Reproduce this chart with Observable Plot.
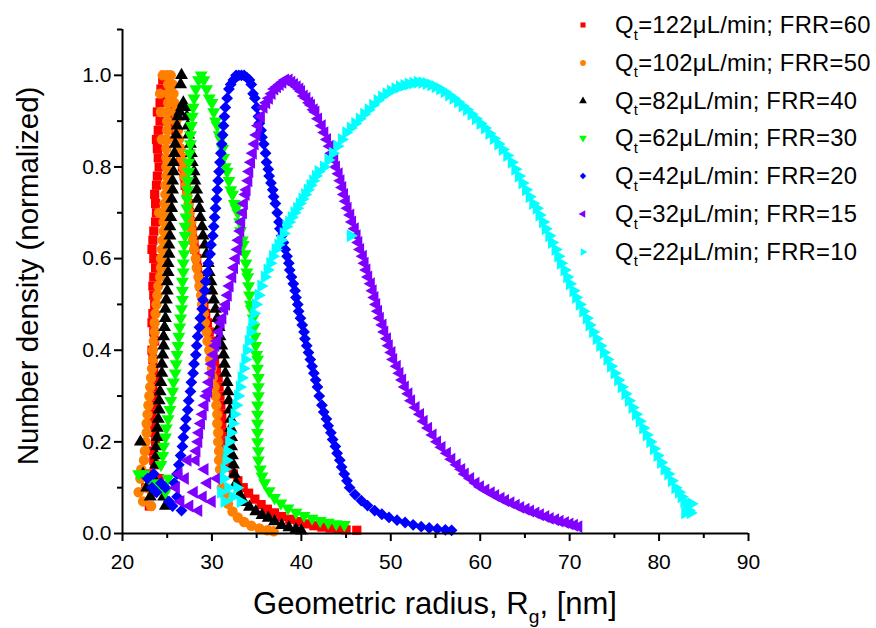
<!DOCTYPE html>
<html><head><meta charset="utf-8">
<script src="https://cdn.jsdelivr.net/npm/d3@7"></script>
<script src="https://cdn.jsdelivr.net/npm/@observablehq/plot@0.6"></script>
<style>
body{margin:0;background:#fff;font-family:Arial,"Liberation Sans",sans-serif;}
#wrap{position:relative;width:876px;height:628px;overflow:hidden;}
.abs{position:absolute;white-space:nowrap;color:#000;line-height:1;}
.sub{font-size:0.62em;position:relative;top:0.45em;}
</style></head><body><div id="wrap"></div>
<script>
// ---- axis ticks ----
const xTicks = [20,30,40,50,60,70,80,90];
const xMinorTicks = [25,35,45,55,65,75,85];
const yTicks = [0,0.2,0.4,0.6,0.8,1.0];
const yMinorTicks = [0.1,0.3,0.5,0.7,0.9,1.1];

// ---- legend / series metadata ----
const flowRates = [122,102,82,62,42,32,22];
const frrValues = [60,50,40,30,20,15,10];
const separators = [";",";",";",";",":",";",";"];
const colors = ["#ff0000","#ff8000","#000000","#00ff00","#0000ff","#8000ff","#00ffff"];
const symbols = ["square","circle","triangle","triangle","diamond2","triangle","triangle"];
const rotations = [0,0,0,180,0,-90,90];

// ---- data: [radius nm, normalized number density] ----
const red122 = [
[22.6,0.10],[23.0,0.13],[23.3,0.09],[23.6,0.15],[24.1,0.12],[23.0,0.06],
[23.5,0.16],[23.4,0.18],[23.7,0.20],[23.6,0.22],[23.4,0.24],[23.3,0.26],[23.6,0.28],[23.5,0.30],[23.4,0.32],[23.7,0.34],[23.5,0.36],[23.4,0.38],[23.3,0.40],[23.6,0.42],[23.5,0.44],[23.3,0.46],[23.4,0.48],[23.6,0.50],[23.5,0.52],[23.4,0.54],[23.5,0.56],[23.7,0.58],[23.5,0.60],[23.3,0.62],[23.4,0.64],[23.5,0.66],[23.7,0.68],[23.8,0.70],[23.7,0.72],[23.6,0.74],[23.8,0.76],[23.9,0.78],[24.1,0.80],[24.0,0.82],[23.9,0.84],[23.8,0.86],[24.0,0.88],[24.2,0.90],[23.9,0.92],[24.2,0.94],[24.4,0.95],[24.3,0.97],[24.5,0.99],[24.7,1.0],[25.0,0.99],
[25.3,0.96],[25.4,0.94],[25.6,0.92],[25.8,0.90],[25.9,0.88],[26.1,0.86],[26.3,0.84],[26.5,0.82],[26.7,0.80],[26.9,0.78],[27.0,0.76],[27.2,0.74],[27.4,0.72],[27.5,0.70],[27.7,0.68],[27.8,0.66],[28.0,0.64],[28.1,0.62],[28.3,0.60],[28.4,0.58],[28.6,0.56],[28.7,0.54],[28.9,0.52],[29.1,0.50],[29.3,0.48],[29.5,0.46],[29.7,0.44],[29.9,0.42],[30.1,0.40],[30.3,0.38],[30.5,0.36],[30.7,0.34],[30.8,0.32],[30.9,0.30],[31.0,0.28],[31.1,0.26],[31.1,0.24],[31.2,0.22],[31.2,0.20],[31.3,0.18],[31.5,0.16],
[31.9,0.145],[32.4,0.13],[32.9,0.115],[33.5,0.10],[34.1,0.088],[34.8,0.075],[35.5,0.063],[36.2,0.053],[37.0,0.045],[37.8,0.037],[38.7,0.031],[39.6,0.026],[40.5,0.021],[41.4,0.017],[42.3,0.014],[43.2,0.012],[44.1,0.010],[45.0,0.008],[46.2,0.007]
];
const orange102 = [
[21.8,0.09],[22.0,0.12],[22.3,0.07],[22.7,0.10],[23.2,0.06],[23.4,0.09],[22.1,0.14],
[22.4,0.16],[22.5,0.18],[22.6,0.20],[22.7,0.22],[22.7,0.24],[22.8,0.26],[22.9,0.28],[23.0,0.30],[23.1,0.32],[23.2,0.34],[23.3,0.36],[23.4,0.38],[23.4,0.40],[23.5,0.42],[23.6,0.44],[23.6,0.46],[23.7,0.48],[23.8,0.50],[23.9,0.52],[24.0,0.54],[24.2,0.56],[24.3,0.58],[24.3,0.60],[24.4,0.62],[24.5,0.64],[24.6,0.66],[24.6,0.68],[24.7,0.70],[24.7,0.72],[24.8,0.74],[24.8,0.76],[24.9,0.78],[24.9,0.80],[24.9,0.82],[24.9,0.84],[25.0,0.86],[25.0,0.88],[25.0,0.90],[25.0,0.92],[25.1,0.94],[25.1,0.96],[25.1,0.98],[25.0,1.0],[25.4,1.0],[25.6,0.98],
[24.4,0.86],[24.3,0.92],[24.2,0.96],[24.5,1.0],[24.1,0.70],
[25.7,0.96],[25.8,0.94],[25.9,0.92],[26.0,0.90],[26.2,0.88],[26.3,0.86],[26.5,0.84],[26.6,0.82],[26.8,0.80],[26.9,0.78],[27.1,0.76],[27.2,0.74],[27.4,0.72],[27.5,0.70],[27.7,0.68],[27.8,0.66],[27.9,0.64],[28.0,0.62],[28.2,0.60],[28.3,0.58],[28.5,0.56],[28.6,0.54],[28.8,0.52],[28.9,0.50],[29.1,0.48],[29.2,0.46],[29.4,0.44],[29.5,0.42],[29.7,0.40],[29.8,0.38],[30.0,0.36],[30.1,0.34],[30.3,0.32],[30.4,0.30],[30.5,0.28],[30.6,0.26],[30.6,0.24],[30.7,0.22],[30.7,0.20],[30.8,0.18],[30.8,0.16],[30.9,0.14],[31.0,0.12],[31.1,0.10],
[31.4,0.085],[31.8,0.065],[32.3,0.048],[32.9,0.035],[33.6,0.025],[34.4,0.017],[35.3,0.011],[36.2,0.007],[36.9,0.005]
];
const black82 = [
[22.0,0.20],[22.3,0.13],[22.7,0.10],[23.1,0.08],[24.6,0.08],[24.8,0.06],[23.5,0.12],
[23.7,0.15],[23.8,0.17],[23.8,0.19],[23.9,0.21],[23.9,0.23],[24.0,0.25],[24.1,0.27],[24.1,0.29],[24.2,0.31],[24.3,0.33],[24.4,0.35],[24.4,0.37],[24.5,0.39],[24.6,0.41],[24.6,0.43],[24.7,0.45],[24.8,0.47],[24.8,0.49],[24.9,0.51],[25.0,0.53],[25.0,0.55],[25.1,0.57],[25.1,0.59],[25.2,0.61],[25.2,0.63],[25.3,0.65],[25.3,0.67],[25.4,0.69],[25.5,0.71],[25.5,0.73],[25.6,0.75],[25.6,0.77],[25.7,0.79],[25.7,0.81],[25.8,0.83],[25.9,0.85],[26.0,0.87],[26.1,0.89],[26.2,0.91],[26.4,0.92],[26.6,0.93],[26.8,0.94],[27.0,0.93],[27.2,0.91],[26.5,0.98],[26.6,1.0],
[27.3,0.89],[27.4,0.87],[27.6,0.85],[27.7,0.83],[27.8,0.81],[28.0,0.79],[28.1,0.77],[28.3,0.75],[28.4,0.73],[28.6,0.71],[28.7,0.69],[28.9,0.67],[29.0,0.65],[29.2,0.63],[29.4,0.61],[29.6,0.59],[29.7,0.57],[29.9,0.55],[30.0,0.53],[30.2,0.51],[30.4,0.49],[30.6,0.47],[30.8,0.45],[30.9,0.43],[31.1,0.41],[31.3,0.39],[31.4,0.37],[31.5,0.35],[31.7,0.33],[31.8,0.31],[31.9,0.29],[32.0,0.27],[32.1,0.25],[32.1,0.23],[32.2,0.21],[32.2,0.19],[32.3,0.17],[32.4,0.15],[32.5,0.13],[32.7,0.11],
[33.1,0.085],[33.6,0.068],[34.2,0.058],[34.9,0.048],[35.6,0.040],[36.3,0.034],[37.0,0.026],[37.8,0.018],[38.6,0.013],[39.4,0.009],[40.0,0.006]
];
const green62 = [
[21.8,0.13],[22.4,0.13],[23.0,0.12],[23.6,0.11],[24.2,0.10],[24.8,0.09],[25.1,0.12],
[24.3,0.15],[24.5,0.17],[24.6,0.19],[24.8,0.21],[24.9,0.23],[25.1,0.25],[25.3,0.27],[25.4,0.29],[25.6,0.31],[25.7,0.33],[25.9,0.35],[26.0,0.37],[26.1,0.39],[26.2,0.41],[26.3,0.43],[26.4,0.45],[26.5,0.47],[26.6,0.49],[26.7,0.51],[26.7,0.53],[26.7,0.55],[26.8,0.57],[26.8,0.59],[26.9,0.61],[26.9,0.63],[27.0,0.65],[27.0,0.67],[27.1,0.69],[27.2,0.71],[27.2,0.73],[27.3,0.75],[27.3,0.77],[27.4,0.79],[27.4,0.81],[27.5,0.83],[27.6,0.85],[27.6,0.87],[27.7,0.89],[27.8,0.91],[27.9,0.93],[28.0,0.95],[28.2,0.97],[28.5,0.99],[28.8,1.0],[29.1,0.99],[29.4,0.97],[29.7,0.95],[30.0,0.94],
[30.2,0.92],[30.4,0.90],[30.6,0.89],[30.8,0.87],[31.0,0.86],[31.2,0.84],[31.3,0.82],[31.5,0.80],[31.7,0.79],[31.9,0.77],[32.1,0.75],[32.3,0.74],[32.5,0.72],[32.7,0.71],[32.9,0.70],[33.1,0.68],[33.2,0.66],[33.4,0.64],[33.5,0.63],[33.7,0.61],[33.8,0.59],[33.9,0.57],[34.0,0.56],[34.1,0.54],[34.2,0.52],[34.3,0.50],[34.4,0.49],[34.6,0.47],[34.7,0.45],[34.8,0.43],[34.9,0.41],[35.0,0.39],[35.1,0.38],[35.1,0.36],[35.2,0.34],[35.2,0.32],[35.2,0.30],[35.1,0.28],[35.1,0.26],[35.1,0.24],[35.1,0.22],[35.1,0.20],[35.2,0.18],[35.2,0.16],[35.4,0.14],[35.6,0.125],[35.9,0.11],
[36.4,0.093],[37.0,0.078],[37.7,0.066],[38.5,0.055],[39.4,0.046],[40.3,0.039],[41.2,0.033],[42.1,0.028],[43.0,0.024],[43.9,0.021],[44.8,0.019]
];
const blue42 = [
[22.8,0.12],[23.3,0.10],[23.8,0.09],[24.3,0.11],[24.8,0.10],[25.2,0.07],[25.6,0.06],[26.1,0.08],[26.6,0.05],[23.5,0.13],
[25.8,0.11],[26.1,0.13],[26.3,0.15],[26.5,0.17],[26.7,0.19],[26.8,0.21],[27.0,0.23],[27.1,0.25],[27.3,0.27],[27.4,0.29],[27.6,0.31],[27.7,0.33],[27.9,0.35],[28.0,0.37],[28.2,0.39],[28.3,0.41],[28.4,0.43],[28.6,0.45],[28.7,0.47],[28.9,0.49],[29.0,0.51],[29.2,0.53],[29.3,0.55],[29.5,0.57],[29.6,0.59],[29.8,0.61],[29.9,0.63],[30.1,0.65],[30.2,0.67],[30.3,0.69],[30.4,0.71],[30.5,0.73],[30.6,0.75],[30.7,0.77],[30.8,0.79],[30.9,0.81],[31.0,0.83],[31.1,0.85],[31.2,0.87],[31.3,0.89],[31.4,0.91],[31.5,0.93],[31.7,0.95],[31.9,0.97],[32.1,0.98],[32.4,0.99],[32.7,1.0],[33.0,1.0],[33.3,1.0],[33.6,1.0],[33.9,0.995],[34.2,0.99],
[34.4,0.98],[34.6,0.96],[34.8,0.95],[35.0,0.93],[35.2,0.91],[35.3,0.895],[35.5,0.88],[35.6,0.865],[35.8,0.85],[36.0,0.83],[36.1,0.81],[36.3,0.795],[36.4,0.78],[36.6,0.765],[36.8,0.75],[36.9,0.735],[37.1,0.72],[37.3,0.70],[37.5,0.68],[37.6,0.665],[37.8,0.65],[38.0,0.635],[38.2,0.62],[38.4,0.605],[38.6,0.59],[38.7,0.575],[38.9,0.56],[39.1,0.545],[39.3,0.53],[39.4,0.515],[39.6,0.50],[39.7,0.485],[39.9,0.47],[40.1,0.455],[40.3,0.44],[40.4,0.425],[40.6,0.41],[40.8,0.395],[41.0,0.38],[41.2,0.365],[41.4,0.35],[41.6,0.335],[41.8,0.32],[42.0,0.30],[42.3,0.28],[42.5,0.265],[42.8,0.25],[43.0,0.235],[43.3,0.22],[43.5,0.205],[43.8,0.19],[44.0,0.175],[44.3,0.16],[44.5,0.145],[44.8,0.13],[45.1,0.115],[45.4,0.10],
[46.0,0.085],[46.7,0.072],[47.4,0.061],[48.2,0.050],[49.0,0.042],[49.8,0.035],[50.7,0.029],[51.6,0.024],[52.5,0.019],[53.4,0.015],[54.3,0.012],[55.2,0.010],[56.1,0.008],[56.8,0.007]
];
const purple32 = [
[26.0,0.10],[26.5,0.07],[27.0,0.12],[27.5,0.06],[28.0,0.09],[28.5,0.05],[29.0,0.08],[29.5,0.11],[30.0,0.07],[27.3,0.16],[29.2,0.14],[30.6,0.12],[26.3,0.13],
[28.2,0.16],[28.3,0.18],[28.5,0.20],[28.6,0.22],[28.8,0.24],[29.0,0.26],[29.2,0.28],[29.4,0.30],[29.6,0.31],[29.7,0.33],[29.9,0.35],[30.0,0.37],[30.2,0.39],[30.4,0.41],[30.6,0.42],[30.8,0.44],[31.0,0.46],[31.2,0.47],[31.4,0.49],[31.6,0.50],[31.8,0.52],[32.0,0.54],[32.3,0.56],[32.5,0.58],[32.7,0.60],[32.9,0.62],[33.0,0.64],[33.2,0.66],[33.3,0.68],[33.5,0.70],[33.6,0.72],[33.8,0.74],[33.9,0.75],[34.1,0.77],[34.2,0.79],[34.4,0.81],[34.6,0.83],[34.8,0.85],[35.0,0.87],[35.2,0.89],[35.5,0.91],[35.8,0.93],[36.1,0.94],[36.4,0.95],[36.7,0.96],[37.0,0.97],[37.3,0.975],[37.6,0.98],[37.9,0.985],[38.2,0.99],[38.6,0.99],[38.9,0.985],[39.2,0.98],[39.5,0.975],
[39.8,0.97],[40.0,0.965],[40.3,0.955],[40.6,0.95],[40.9,0.94],[41.1,0.935],[41.4,0.925],[41.6,0.92],[41.9,0.905],[42.3,0.89],[42.6,0.875],[42.9,0.86],[43.2,0.845],[43.4,0.83],[43.7,0.815],[43.9,0.80],[44.2,0.785],[44.4,0.77],[44.6,0.755],[44.8,0.74],[45.0,0.725],[45.2,0.71],[45.5,0.695],[45.7,0.68],[46.0,0.665],[46.2,0.65],[46.4,0.635],[46.6,0.62],[46.9,0.605],[47.1,0.59],[47.3,0.575],[47.5,0.56],[47.8,0.545],[48.0,0.53],[48.2,0.515],[48.4,0.50],[48.6,0.485],[48.8,0.47],[49.1,0.455],[49.3,0.44],[49.6,0.425],[49.8,0.41],[50.1,0.395],[50.3,0.38],[50.7,0.365],[51.0,0.35],[51.3,0.335],[51.6,0.32],[52.0,0.305],[52.3,0.29],[52.8,0.275],[53.3,0.26],[53.7,0.245],[54.2,0.23],[54.7,0.215],[55.2,0.20],[55.7,0.188],[56.3,0.175],[56.8,0.162],[57.4,0.15],[57.9,0.14],[58.3,0.13],[58.9,0.12],[59.5,0.11],[60.0,0.102],[60.6,0.095],[61.2,0.089],[61.7,0.083],[62.3,0.077],[62.8,0.072],[63.4,0.067],[64.0,0.062],[64.5,0.057],[65.1,0.053],[65.6,0.049],[66.2,0.045],[66.7,0.041],[67.3,0.037],[67.8,0.033],[68.4,0.030],[68.9,0.027],[69.5,0.024],[70.0,0.021],[70.5,0.018],[71.0,0.015]
];
const cyan22 = [
[31.0,0.09],[31.4,0.07],[31.8,0.10],[32.3,0.08],[32.8,0.10],[33.2,0.07],[45.5,0.65],
[31.3,0.12],[31.4,0.14],[31.6,0.16],[31.7,0.18],[31.9,0.20],[32.1,0.22],[32.3,0.24],[32.5,0.26],[32.7,0.28],[32.9,0.30],[33.1,0.32],[33.3,0.34],[33.5,0.36],[33.7,0.38],[33.9,0.40],[34.1,0.42],[34.3,0.44],[34.5,0.46],[34.7,0.48],[34.9,0.50],[35.2,0.52],[35.5,0.54],[35.9,0.56],[36.2,0.575],[36.5,0.59],[36.8,0.605],[37.1,0.62],[37.4,0.63],[37.7,0.64],[38.0,0.655],[38.3,0.67],[38.6,0.68],[38.9,0.69],[39.2,0.70],[39.5,0.71],[39.8,0.72],[40.1,0.73],[40.4,0.74],[40.7,0.75],[41.0,0.76],[41.3,0.77],[41.6,0.78],[41.9,0.79],[42.5,0.80],[43.0,0.815],[43.5,0.83],[44.0,0.845],[44.5,0.86],[45.0,0.875],[45.5,0.885],[46.0,0.895],[46.5,0.905],[47.0,0.915],[47.5,0.925],[48.0,0.935],[48.5,0.945],[49.0,0.953],[49.5,0.96],[50.0,0.966],[50.5,0.971],[51.0,0.975],[51.5,0.978],[52.0,0.981],[52.5,0.983],[53.0,0.985],[53.5,0.984],[54.0,0.982],
[54.5,0.979],[55.0,0.975],[55.5,0.97],[56.0,0.964],[56.5,0.957],[57.0,0.95],[57.5,0.942],[58.0,0.933],[58.5,0.925],[59.0,0.915],[59.5,0.905],[60.0,0.895],[60.5,0.885],[61.0,0.873],[61.5,0.862],[62.0,0.85],[62.5,0.838],[63.0,0.825],[63.5,0.81],[63.9,0.795],[64.3,0.78],[64.7,0.765],[65.1,0.75],[65.5,0.735],[65.9,0.72],[66.3,0.71],[66.6,0.695],[67.0,0.68],[67.3,0.665],[67.7,0.65],[68.0,0.635],[68.4,0.62],[68.7,0.605],[69.0,0.59],[69.4,0.575],[69.7,0.56],[70.0,0.545],[70.4,0.53],[70.7,0.515],[71.1,0.50],[71.5,0.485],[71.9,0.47],[72.2,0.455],[72.6,0.44],[73.0,0.425],[73.4,0.41],[73.8,0.395],[74.2,0.38],[74.6,0.365],[75.0,0.35],[75.4,0.335],[75.8,0.32],[76.2,0.305],[76.6,0.29],[77.0,0.275],[77.4,0.26],[77.8,0.245],[78.2,0.23],[78.6,0.215],[79.0,0.20],[79.4,0.185],[79.8,0.17],[80.2,0.155],[80.6,0.14],[81.0,0.13],[81.4,0.115],[81.8,0.10],[82.2,0.09],[82.5,0.08],[82.8,0.07],[83.1,0.06],[83.3,0.05],[83.5,0.045],[82.9,0.045],[83.6,0.065]
];

const seriesData = [red122, orange102, black82, green62, blue42, purple32, cyan22];
const radii = [5.2, 5.2, 4.8, 4.8, 5.3, 4.8, 4.8];

const font = 'Arial, "Liberation Sans", sans-serif';
const dotMarks = seriesData.map((pts, i) => Plot.dot(pts, {
  x: d => d[0], y: d => d[1], symbol: symbols[i], fill: colors[i],
  stroke: "none", r: radii[i], rotate: rotations[i]
}));

const chart = Plot.plot({
  width: 876, height: 628,
  marginLeft: 122, marginRight: 128, marginTop: 29, marginBottom: 95,
  x: {domain: [20, 90]},
  y: {domain: [0, 1.1]},
  style: {fontFamily: font, fontSize: "21px", color: "#000", background: "#fff"},
  marks: [
    ...dotMarks,
    Plot.axisX(xTicks, {tickSize: 8, tickPadding: 13, strokeWidth: 2, fontSize: 21, label: null, tickFormat: d => String(d)}),
    Plot.axisX(xMinorTicks, {tickSize: 5, strokeWidth: 2, label: null, tickFormat: () => ""}),
    Plot.axisY(yTicks, {tickSize: 8, tickPadding: 3, strokeWidth: 2, fontSize: 21, label: null, tickFormat: d3.format(".1f")}),
    Plot.axisY(yMinorTicks, {tickSize: 5, strokeWidth: 2, label: null, tickFormat: () => ""}),
    Plot.ruleX([20], {strokeWidth: 2}),
    Plot.ruleY([0], {strokeWidth: 2})
  ]
});
const wrap = document.getElementById("wrap");
wrap.appendChild(chart);

// axis titles
const xt = document.createElement("div");
xt.className = "abs";
xt.style.cssText = "left:435px;top:588px;font-size:31px;transform:translateX(-50%);";
xt.innerHTML = 'Geometric radius, R<span class="sub">g</span>, [nm]';
wrap.appendChild(xt);
const yt = document.createElement("div");
yt.className = "abs";
yt.style.cssText = "left:28px;top:276px;font-size:29.5px;transform:translate(-50%,-50%) rotate(-90deg);";
yt.textContent = "Number density (normalized)";
wrap.appendChild(yt);

// legend
const rowY0 = 25, rowStep = 37.8;
flowRates.forEach((q, i) => {
  const cy = rowY0 + i * rowStep;
  const svgNS = "http://www.w3.org/2000/svg";
  const s = document.createElementNS(svgNS, "svg");
  s.setAttribute("width", 14); s.setAttribute("height", 14);
  s.style.cssText = `position:absolute;left:${583-7}px;top:${cy-7}px;`;
  const p = document.createElementNS(svgNS, "path");
  const symMap = {square: d3.symbolSquare, circle: d3.symbolCircle, triangle: d3.symbolTriangle, diamond2: d3.symbolDiamond2};
  p.setAttribute("d", d3.symbol(symMap[symbols[i]], 26)());
  p.setAttribute("transform", `translate(7,7) rotate(${rotations[i]})`);
  p.setAttribute("fill", colors[i]);
  s.appendChild(p);
  wrap.appendChild(s);
  const t = document.createElement("div");
  t.className = "abs";
  t.style.cssText = `left:615px;top:${cy-12}px;font-size:23.8px;letter-spacing:0.25px;`;
  t.innerHTML = `Q<span class="sub">t</span>=${q}μL/min${separators[i]} FRR=${frrValues[i]}`;
  wrap.appendChild(t);
});
</script>
</body></html>
